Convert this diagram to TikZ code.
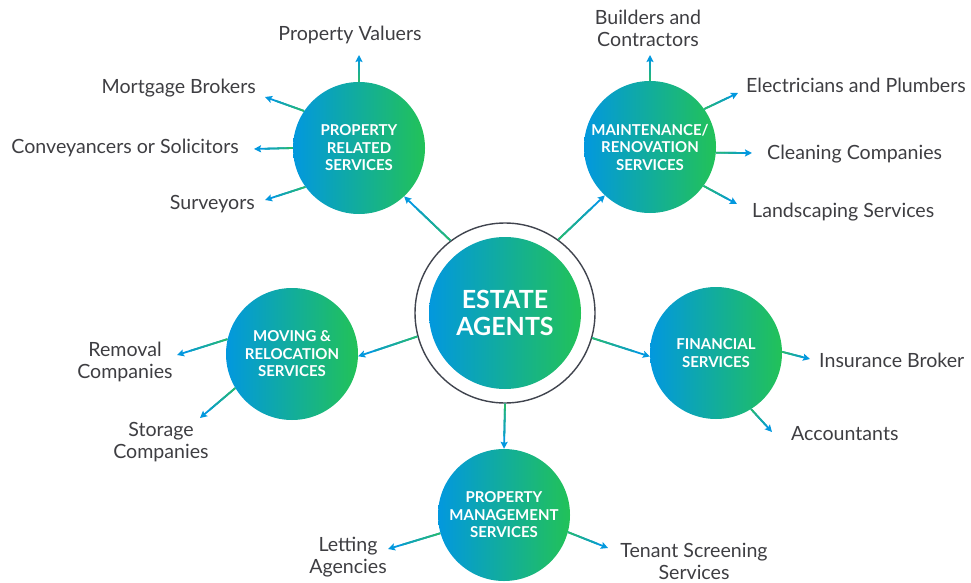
\documentclass[tikz,border=0pt]{standalone}
\usepackage{fontspec}
\setmainfont{Lato}
\usetikzlibrary{arrows.meta,calc}

\definecolor{gBlue}{RGB}{2,152,222}
\definecolor{gGreen}{RGB}{34,194,88}
\definecolor{lnGreen}{RGB}{40,186,110}
\definecolor{txtGray}{RGB}{62,62,66}
\definecolor{ringGray}{RGB}{64,68,78}

% connector: green at the start, fading to blue at the arrow tip
\newcommand\flowlink[2]{%
  \draw[link, draw=gBlue, -{Stealth[length=7pt,width=7pt,inset=1.2pt]}] (#1) -- (#2);
  \foreach \k in {0,...,5}{%
    \pgfmathsetmacro\ta{\k*0.12}%
    \pgfmathsetmacro\tb{(\k+1)*0.12+0.006}%
    \pgfmathtruncatemacro\pc{100-\k*14}%
    \draw[link, draw=lnGreen!\pc!gBlue] ($(#1)!\ta!(#2)$) -- ($(#1)!\tb!(#2)$);
  }%
}

\begin{document}
\begin{tikzpicture}[x=1pt,y=-1pt,
  hub/.style={circle, inner sep=0pt, minimum size=132pt,
    left color=gBlue, right color=gGreen, text=white, align=center,
    font=\fontsize{15}{17.5}\selectfont\bfseries},
  lbl/.style={text=txtGray, inner sep=0pt, align=center,
    font=\fontsize{19.6}{22}\selectfont},
  link/.style={line width=1.8pt}]

\useasboundingbox (0,0) rectangle (971,583);

% central hub with outer ring
\node[circle, draw=ringGray, line width=1.4pt, minimum size=180pt, inner sep=0pt] (ring) at (505,313) {};
\node[hub, minimum size=152pt, font=\fontsize{25}{27}\selectfont\bfseries] (ea) at (505,313) {ESTATE\\AGENTS};

% service circles
\node[hub] (prs) at (359,148) {PROPERTY\\RELATED\\SERVICES};
\node[hub] (mrs) at (650,147) {MAINTENANCE/\\RENOVATION\\SERVICES};
\node[hub] (mov) at (292,354) {MOVING \&\\RELOCATION\\SERVICES};
\node[hub] (fin) at (716,353) {FINANCIAL\\SERVICES};
\node[hub] (pms) at (504,515) {PROPERTY\\MANAGEMENT\\SERVICES};

% hub to services
\flowlink{ring.127}{prs.-47}
\flowlink{ring.54}{mrs.-133}
\flowlink{ring.195}{mov.-2}
\flowlink{ring.-16}{fin.183}
\flowlink{ring.-90}{pms.90}

% labels
\node[lbl] (pv) at (350,35) {Property Valuers};
\node[lbl, anchor=east] (mb) at (256,88) {Mortgage Brokers};
\node[lbl, anchor=east] (cs) at (239,148) {Conveyancers or Solicitors};
\node[lbl, anchor=east] (sv) at (255,204) {Surveyors};

\node[lbl] (bc) at (648,28) {Builders and\\Contractors};
\node[lbl, anchor=west] (ep) at (746,85) {Electricians and Plumbers};
\node[lbl, anchor=west] (cc) at (767,154) {Cleaning Companies};
\node[lbl, anchor=west] (ls) at (752,212) {Landscaping Services};

\node[lbl] (rc) at (125,362) {Removal\\Companies};
\node[lbl] (sc) at (161,442) {Storage\\Companies};

\node[lbl, anchor=west] (ib) at (819,360) {Insurance Broker};
\node[lbl, anchor=west] (ac) at (791,434) {Accountants};

\node[lbl] (la) at (348,557) {Letting\\Agencies};
\node[lbl] (ts) at (694,561) {Tenant Screening\\Services};

% arrow ends
\coordinate (pvE) at (359,55);
\coordinate (mbE) at (265,97);
\coordinate (csE) at (254,149);
\coordinate (svE) at (265,200);
\coordinate (bcE) at (650,55);
\coordinate (epE) at (738,93);
\coordinate (ccE) at (752,153);
\coordinate (lsE) at (737,204);
\coordinate (rcE) at (177,355);
\coordinate (scE) at (200,418);
\coordinate (ibE) at (810,359);
\coordinate (acE) at (772,432);
\coordinate (laE) at (388,549);
\coordinate (tsE) at (608,548);

% services to providers
\flowlink{prs.90}{pvE}
\flowlink{prs.146}{mbE}
\flowlink{prs.180}{csE}
\flowlink{prs.216}{svE}

\flowlink{mrs.90}{bcE}
\flowlink{mrs.35}{epE}
\flowlink{mrs.-5}{ccE}
\flowlink{mrs.-36}{lsE}

\flowlink{mov.167}{rcE}
\flowlink{mov.211}{scE}

\flowlink{fin.1}{ibE}
\flowlink{fin.-58}{acE}

\flowlink{pms.196}{laE}
\flowlink{pms.-15}{tsE}
\end{tikzpicture}
\end{document}
